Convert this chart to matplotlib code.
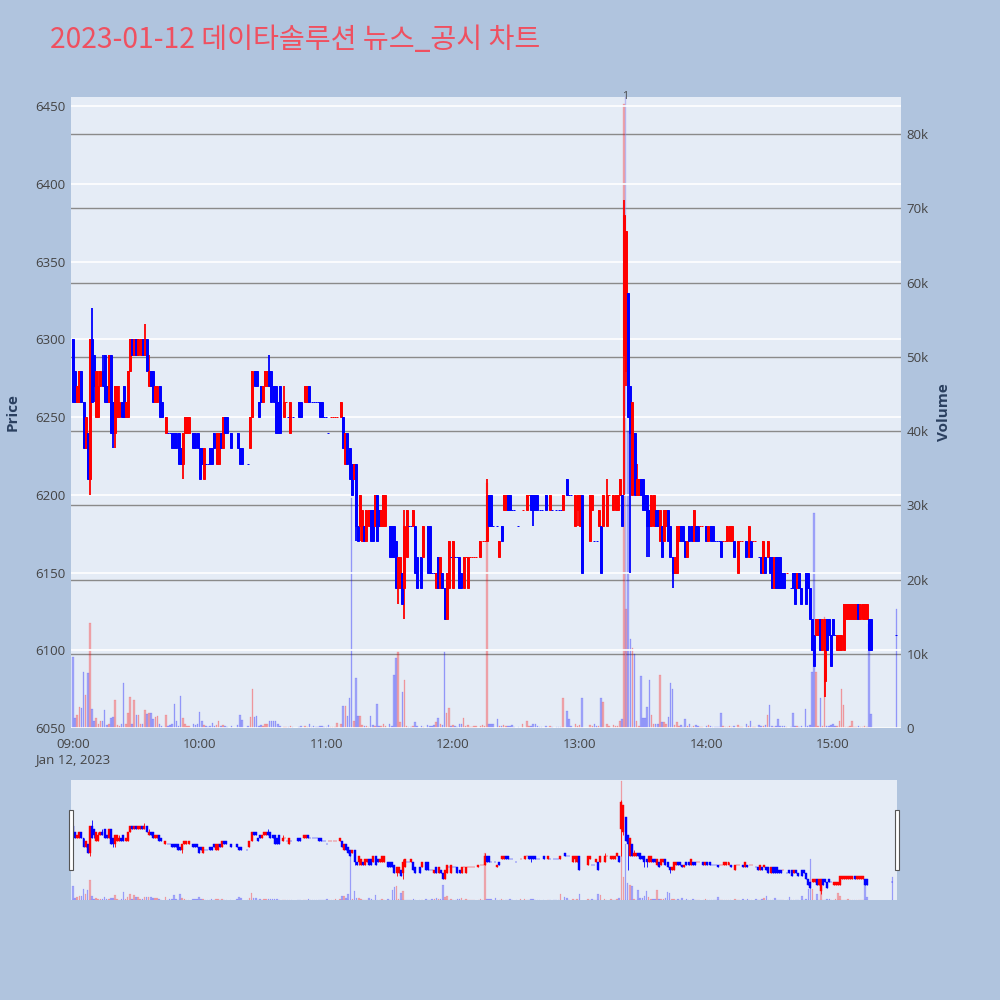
import matplotlib.pyplot as plt
from matplotlib.patches import Rectangle
import numpy as np

# 1-minute bars, 2023-01-12
times = [
    "09:00", "09:01", "09:02", "09:03", "09:04", "09:05", "09:06", "09:07", "09:08", "09:09",
    "09:10", "09:11", "09:12", "09:13", "09:14", "09:15", "09:16", "09:17", "09:18", "09:19",
    "09:20", "09:21", "09:22", "09:23", "09:24", "09:25", "09:26", "09:27", "09:28", "09:29",
    "09:30", "09:31", "09:32", "09:33", "09:34", "09:35", "09:36", "09:37", "09:38", "09:39",
    "09:40", "09:41", "09:42",
    "09:44", "09:45", "09:46", "09:47", "09:48", "09:49", "09:50", "09:51", "09:52", "09:53", "09:54", "09:55",
    "09:57", "09:58", "09:59", "10:00", "10:01", "10:02", "10:03", "10:04", "10:05", "10:06",
    "10:07", "10:08", "10:09", "10:10", "10:11", "10:12", "10:13",
    "10:15", "10:18", "10:19", "10:20",
    "10:23", "10:24", "10:25", "10:26", "10:27", "10:28", "10:29", "10:30", "10:31", "10:32",
    "10:33", "10:34", "10:35", "10:36", "10:37", "10:38",
    "10:40", "10:41", "10:42", "10:43", "10:44",
    "10:47", "10:48",
    "10:50", "10:51", "10:52", "10:53", "10:54", "10:55", "10:56", "10:57", "10:58", "10:59",
    "11:00", "11:01", "11:02", "11:03", "11:04", "11:05",
    "11:07", "11:08", "11:09", "11:10", "11:11", "11:12", "11:13", "11:14", "11:15", "11:16",
    "11:17", "11:18", "11:19", "11:20", "11:21", "11:22", "11:23", "11:24", "11:25", "11:26",
    "11:27", "11:28",
    "11:30", "11:31", "11:32", "11:33", "11:34", "11:35", "11:36", "11:37", "11:38", "11:39",
    "11:40", "11:41", "11:42", "11:43",
    "11:45", "11:46",
    "11:48", "11:49", "11:50", "11:51", "11:52", "11:53", "11:54", "11:55", "11:56", "11:57",
    "11:58", "11:59", "12:00", "12:01", "12:02", "12:03", "12:04", "12:05", "12:06", "12:07",
    "12:08", "12:09", "12:10", "12:11",
    "12:13", "12:14", "12:15", "12:16", "12:17", "12:18", "12:19",
    "12:21", "12:22", "12:23", "12:24", "12:25", "12:26", "12:27", "12:28", "12:29",
    "12:31", "12:33",
    "12:35", "12:36", "12:37", "12:38", "12:39", "12:40", "12:41", "12:42",
    "12:44", "12:46", "12:47",
    "12:49", "12:50", "12:51", "12:52",
    "12:54", "12:55", "12:56",
    "12:58", "12:59", "13:00", "13:01",
    "13:05", "13:06", "13:07", "13:08", "13:09", "13:10", "13:11",
    "13:13", "13:14",
    "13:16", "13:17", "13:18", "13:19", "13:20", "13:21", "13:22", "13:23", "13:24", "13:25",
    "13:26", "13:27", "13:28", "13:29", "13:30", "13:31", "13:32", "13:33", "13:34", "13:35",
    "13:36", "13:37", "13:38", "13:39", "13:40", "13:41", "13:42", "13:43", "13:44", "13:45",
    "13:46", "13:47", "13:48", "13:49", "13:50", "13:51", "13:52", "13:53", "13:54", "13:55",
    "13:56", "13:57", "13:58",
    "14:00", "14:01", "14:02", "14:03", "14:04", "14:05", "14:06", "14:07", "14:08", "14:09",
    "14:10", "14:11", "14:12", "14:13",
    "14:15", "14:16", "14:17",
    "14:19", "14:20", "14:21", "14:22", "14:23",
    "14:25", "14:26", "14:27", "14:28", "14:29", "14:30", "14:31", "14:32", "14:33", "14:34",
    "14:35", "14:36", "14:37", "14:38",
    "14:40", "14:41", "14:42", "14:43", "14:44", "14:45",
    "14:47", "14:48", "14:49", "14:50", "14:51", "14:52", "14:53", "14:54", "14:55", "14:56",
    "14:57", "14:58", "14:59", "15:00", "15:01", "15:02", "15:03", "15:04", "15:05", "15:06",
    "15:07", "15:08", "15:09", "15:10", "15:11", "15:12", "15:13", "15:14", "15:15", "15:16",
    "15:17", "15:18",
    "15:30",
]

opens = [
    6300, 6280, 6260, 6260, 6280, 6260, 6230, 6240, 6210, 6300,
    6290, 6250, 6250, 6270, 6280, 6290, 6270, 6260, 6290, 6260,
    6240, 6250, 6250, 6260, 6270, 6250, 6250, 6280, 6300, 6290,
    6300, 6290, 6290, 6300, 6290, 6300, 6270, 6280, 6280, 6260,
    6260, 6270, 6260,
    6240, 6240, 6240, 6240, 6240, 6240, 6240, 6230, 6220, 6240, 6240, 6240,
    6240, 6240, 6240, 6230, 6230, 6210, 6220, 6220, 6230, 6230,
    6240, 6220, 6220, 6240, 6230, 6250, 6250,
    6240, 6240, 6230, 6230,
    6220, 6230, 6250, 6280, 6280, 6260, 6270, 6260, 6270, 6270,
    6280, 6280, 6270, 6270, 6260, 6270,
    6250, 6260, 6250, 6240, 6250,
    6260, 6260,
    6260, 6260, 6270, 6260, 6260, 6260, 6260, 6260, 6260, 6250,
    6250, 6240, 6250, 6250, 6250, 6250,
    6250, 6250, 6220, 6240, 6230, 6220, 6210, 6220, 6180, 6180,
    6170, 6180, 6170, 6180, 6190, 6190, 6180, 6200, 6190, 6180,
    6180, 6180,
    6180, 6180, 6180, 6170, 6140, 6140, 6150, 6140, 6160, 6180,
    6180, 6180, 6180, 6160,
    6160, 6160,
    6180, 6180, 6150, 6150, 6140, 6160, 6140, 6150, 6140, 6120,
    6140, 6160, 6140, 6160, 6160, 6160, 6150, 6140, 6160, 6140,
    6160, 6160, 6160, 6160,
    6160, 6170, 6170, 6170, 6200, 6200, 6180,
    6180, 6160, 6180, 6190, 6190, 6200, 6200, 6190, 6190,
    6180, 6190,
    6190, 6200, 6200, 6200, 6200, 6200, 6190, 6190,
    6200, 6190, 6190,
    6190, 6190, 6190, 6190,
    6210, 6200, 6200,
    6180, 6190, 6180, 6200,
    6170, 6190, 6170, 6170, 6180, 6180, 6180,
    6180, 6200,
    6190, 6190, 6190, 6200, 6200, 6290, 6280, 6330, 6270, 6200,
    6240, 6200, 6200, 6210, 6210, 6200, 6200, 6190, 6180, 6180,
    6190, 6190, 6170, 6180, 6170, 6180, 6190, 6180, 6160, 6150,
    6150, 6170, 6180, 6180, 6170, 6160, 6180, 6180, 6170, 6180,
    6180, 6180, 6180,
    6180, 6170, 6180, 6180, 6170, 6170, 6170, 6170, 6170, 6170,
    6170, 6170, 6170, 6170,
    6150, 6170, 6170,
    6170, 6160, 6170, 6170, 6170,
    6160, 6160, 6150, 6160, 6160, 6160, 6160, 6140, 6160, 6160,
    6160, 6150, 6150, 6150,
    6140, 6150, 6150, 6140, 6150, 6140,
    6150, 6150, 6140, 6120, 6110, 6110, 6110, 6120, 6100, 6080,
    6120, 6120, 6110, 6120, 6110, 6100, 6100, 6100, 6100, 6120,
    6120, 6120, 6120, 6120, 6120, 6130, 6120, 6120, 6120, 6120,
    6120, 6120,
    6110,
]

highs = [
    6300, 6280, 6270, 6280, 6280, 6260, 6250, 6240, 6300, 6320,
    6290, 6280, 6280, 6280, 6290, 6290, 6270, 6290, 6290, 6260,
    6270, 6270, 6270, 6260, 6270, 6260, 6280, 6300, 6300, 6300,
    6300, 6300, 6300, 6300, 6310, 6300, 6290, 6280, 6280, 6270,
    6270, 6270, 6260,
    6250, 6240, 6240, 6240, 6240, 6240, 6240, 6230, 6240, 6250, 6250, 6250,
    6240, 6240, 6240, 6230, 6230, 6230, 6220, 6220, 6230, 6230,
    6240, 6240, 6240, 6240, 6250, 6250, 6250,
    6240, 6240, 6230, 6230,
    6220, 6250, 6280, 6280, 6280, 6260, 6270, 6270, 6280, 6280,
    6290, 6280, 6270, 6270, 6260, 6270,
    6270, 6260, 6250, 6260, 6250,
    6260, 6260,
    6270, 6270, 6270, 6260, 6260, 6260, 6260, 6260, 6260, 6250,
    6250, 6240, 6250, 6250, 6250, 6250,
    6260, 6250, 6240, 6240, 6230, 6220, 6220, 6220, 6180, 6200,
    6190, 6180, 6190, 6190, 6190, 6190, 6200, 6200, 6190, 6190,
    6200, 6200,
    6180, 6180, 6180, 6170, 6160, 6160, 6150, 6190, 6190, 6180,
    6180, 6190, 6180, 6160,
    6160, 6180,
    6180, 6180, 6150, 6150, 6150, 6160, 6160, 6150, 6140, 6150,
    6170, 6160, 6170, 6160, 6160, 6160, 6150, 6160, 6160, 6160,
    6160, 6160, 6160, 6160,
    6170, 6170, 6170, 6210, 6200, 6200, 6180,
    6180, 6170, 6180, 6200, 6200, 6200, 6200, 6190, 6190,
    6180, 6190,
    6200, 6200, 6200, 6200, 6200, 6200, 6190, 6190,
    6200, 6200, 6190,
    6190, 6190, 6190, 6200,
    6210, 6200, 6200,
    6200, 6200, 6200, 6200,
    6200, 6200, 6170, 6170, 6190, 6180, 6200,
    6210, 6200,
    6200, 6200, 6200, 6210, 6200, 6390, 6370, 6330, 6270, 6260,
    6240, 6220, 6210, 6210, 6210, 6200, 6200, 6190, 6200, 6200,
    6190, 6190, 6190, 6180, 6190, 6190, 6190, 6180, 6160, 6160,
    6180, 6180, 6180, 6180, 6170, 6170, 6180, 6180, 6190, 6180,
    6180, 6180, 6180,
    6180, 6180, 6180, 6180, 6170, 6170, 6170, 6170, 6170, 6170,
    6180, 6180, 6180, 6170,
    6170, 6170, 6170,
    6170, 6180, 6170, 6170, 6170,
    6160, 6160, 6170, 6160, 6170, 6160, 6160, 6160, 6160, 6160,
    6160, 6150, 6150, 6150,
    6140, 6150, 6150, 6150, 6150, 6140,
    6150, 6150, 6140, 6120, 6110, 6120, 6120, 6120, 6120, 6120,
    6120, 6120, 6110, 6120, 6110, 6110, 6110, 6110, 6130, 6130,
    6130, 6130, 6130, 6130, 6130, 6130, 6130, 6130, 6130, 6130,
    6120, 6120,
    6110,
]

lows = [
    6260, 6260, 6260, 6260, 6260, 6230, 6230, 6210, 6200, 6260,
    6260, 6250, 6250, 6270, 6270, 6260, 6260, 6260, 6240, 6230,
    6230, 6250, 6250, 6250, 6250, 6250, 6250, 6280, 6290, 6290,
    6290, 6290, 6290, 6290, 6290, 6280, 6270, 6270, 6260, 6260,
    6260, 6250, 6250,
    6240, 6240, 6240, 6230, 6230, 6230, 6220, 6220, 6210, 6240, 6240, 6240,
    6230, 6230, 6230, 6210, 6220, 6210, 6220, 6220, 6220, 6220,
    6230, 6220, 6220, 6230, 6230, 6240, 6240,
    6230, 6230, 6220, 6220,
    6220, 6230, 6250, 6270, 6270, 6250, 6260, 6260, 6270, 6270,
    6270, 6260, 6260, 6240, 6240, 6240,
    6250, 6260, 6250, 6240, 6250,
    6250, 6250,
    6260, 6260, 6260, 6260, 6260, 6260, 6260, 6250, 6250, 6250,
    6250, 6240, 6250, 6250, 6250, 6250,
    6250, 6230, 6220, 6220, 6210, 6200, 6210, 6170, 6170, 6170,
    6170, 6170, 6170, 6180, 6170, 6170, 6180, 6170, 6180, 6180,
    6180, 6180,
    6160, 6160, 6160, 6140, 6130, 6140, 6130, 6120, 6160, 6180,
    6180, 6180, 6150, 6140,
    6140, 6160,
    6150, 6150, 6150, 6150, 6140, 6140, 6140, 6140, 6120, 6120,
    6140, 6160, 6140, 6160, 6160, 6140, 6140, 6140, 6160, 6140,
    6160, 6160, 6160, 6160,
    6160, 6170, 6170, 6170, 6180, 6180, 6180,
    6180, 6160, 6170, 6190, 6190, 6190, 6190, 6190, 6190,
    6180, 6190,
    6190, 6200, 6190, 6180, 6190, 6190, 6190, 6190,
    6190, 6190, 6190,
    6190, 6190, 6190, 6190,
    6200, 6200, 6200,
    6180, 6180, 6180, 6150,
    6170, 6190, 6170, 6170, 6180, 6150, 6180,
    6180, 6200,
    6190, 6190, 6190, 6200, 6180, 6200, 6270, 6250, 6150, 6200,
    6200, 6200, 6200, 6200, 6190, 6190, 6160, 6160, 6180, 6180,
    6180, 6180, 6170, 6160, 6170, 6180, 6170, 6160, 6140, 6150,
    6150, 6170, 6170, 6170, 6160, 6160, 6170, 6170, 6170, 6170,
    6170, 6180, 6180,
    6170, 6170, 6170, 6170, 6170, 6170, 6170, 6160, 6170, 6170,
    6170, 6170, 6170, 6160,
    6150, 6170, 6170,
    6160, 6160, 6160, 6170, 6170,
    6160, 6150, 6150, 6150, 6160, 6150, 6140, 6140, 6140, 6140,
    6140, 6140, 6140, 6150,
    6140, 6140, 6130, 6140, 6140, 6130,
    6130, 6140, 6120, 6100, 6090, 6110, 6110, 6100, 6100, 6070,
    6100, 6110, 6090, 6110, 6110, 6100, 6100, 6100, 6100, 6120,
    6120, 6120, 6120, 6120, 6120, 6120, 6120, 6120, 6120, 6120,
    6100, 6100,
    6110,
]

closes = [
    6260, 6260, 6270, 6280, 6260, 6230, 6250, 6210, 6300, 6260,
    6270, 6280, 6270, 6280, 6270, 6260, 6260, 6290, 6240, 6240,
    6270, 6270, 6260, 6250, 6250, 6260, 6280, 6300, 6290, 6300,
    6290, 6300, 6300, 6290, 6300, 6280, 6280, 6270, 6260, 6270,
    6270, 6250, 6250,
    6250, 6240, 6240, 6230, 6230, 6230, 6220, 6220, 6240, 6250, 6250, 6250,
    6230, 6230, 6230, 6210, 6220, 6230, 6220, 6220, 6220, 6220,
    6230, 6240, 6240, 6230, 6250, 6240, 6240,
    6230, 6230, 6220, 6220,
    6220, 6250, 6280, 6270, 6270, 6250, 6260, 6270, 6280, 6280,
    6270, 6260, 6260, 6240, 6240, 6240,
    6260, 6260, 6250, 6260, 6250,
    6250, 6250,
    6270, 6270, 6260, 6260, 6260, 6260, 6260, 6250, 6250, 6250,
    6250, 6240, 6250, 6250, 6250, 6250,
    6260, 6230, 6240, 6220, 6210, 6200, 6220, 6180, 6170, 6200,
    6190, 6170, 6190, 6190, 6170, 6170, 6200, 6170, 6180, 6190,
    6200, 6200,
    6160, 6160, 6160, 6140, 6160, 6160, 6130, 6180, 6190, 6180,
    6180, 6190, 6150, 6140,
    6140, 6180,
    6150, 6150, 6150, 6150, 6150, 6140, 6160, 6140, 6120, 6150,
    6170, 6160, 6170, 6160, 6160, 6140, 6140, 6160, 6160, 6160,
    6160, 6160, 6160, 6160,
    6170, 6170, 6170, 6200, 6180, 6180, 6180,
    6180, 6170, 6170, 6200, 6200, 6190, 6190, 6190, 6190,
    6180, 6190,
    6200, 6200, 6190, 6190, 6190, 6190, 6190, 6190,
    6190, 6200, 6190,
    6190, 6190, 6190, 6200,
    6200, 6200, 6200,
    6200, 6200, 6200, 6150,
    6200, 6200, 6170, 6170, 6190, 6150, 6200,
    6200, 6200,
    6200, 6200, 6200, 6210, 6180, 6380, 6370, 6250, 6240, 6260,
    6200, 6210, 6210, 6200, 6190, 6190, 6180, 6180, 6200, 6200,
    6180, 6180, 6190, 6160, 6190, 6190, 6170, 6160, 6150, 6160,
    6180, 6180, 6170, 6170, 6160, 6170, 6170, 6170, 6190, 6170,
    6170, 6180, 6180,
    6170, 6180, 6170, 6170, 6170, 6170, 6170, 6160, 6170, 6170,
    6180, 6180, 6180, 6160,
    6170, 6170, 6170,
    6160, 6180, 6160, 6170, 6170,
    6160, 6150, 6170, 6150, 6170, 6150, 6140, 6160, 6140, 6140,
    6140, 6140, 6140, 6150,
    6140, 6140, 6130, 6150, 6140, 6130,
    6130, 6140, 6120, 6100, 6090, 6120, 6120, 6100, 6120, 6120,
    6100, 6110, 6090, 6110, 6110, 6110, 6110, 6110, 6130, 6130,
    6130, 6130, 6130, 6130, 6130, 6120, 6130, 6130, 6130, 6130,
    6100, 6100,
    6110,
]

volumes = [
    9600, 1300, 1800, 2800, 2700, 7600, 4500, 7400, 14200, 2500,
    900, 1300, 500, 900, 900, 2400, 400, 600, 1300, 1500,
    3800, 400, 300, 500, 6000, 600, 2000, 4200, 600, 3800,
    1800, 1800, 600, 500, 2400, 1900, 2000, 2000, 1200, 1500,
    1600, 600, 300,
    1800, 300, 400, 600, 3300, 1000, 300, 4300, 1300, 600, 300, 300,
    600, 400, 600, 2200, 1000, 400, 300, 200, 300, 700,
    300, 400, 900, 300, 400, 300, 200,
    300, 400, 1800, 1100,
    300, 1500, 5300, 1500, 1600, 300, 400, 300, 500, 500,
    1000, 1000, 1000, 900, 600, 300,
    200, 200, 100, 300, 200,
    200, 300,
    300, 200, 600, 200, 300, 200, 200, 300, 300, 200,
    200, 400, 200, 200, 200, 700,
    500, 2900, 3000, 1600, 4100, 31000, 1000, 6700, 1600, 1600,
    400, 300, 300, 200, 1600, 400, 300, 3300, 300, 300,
    500, 300,
    500, 300, 7200, 9400, 10200, 800, 4900, 6400, 300, 200,
    200, 300, 800, 300,
    300, 200,
    400, 300, 300, 400, 800, 1400, 500, 400, 10300, 2000,
    2700, 300, 400, 300, 200, 600, 500, 1300, 300, 400,
    200, 200, 300, 300,
    300, 400, 300, 33000, 600, 600, 600,
    1200, 300, 300, 400, 300, 300, 300, 400, 200,
    200, 500,
    1000, 300, 300, 600, 600, 300, 200, 200,
    300, 300, 200,
    200, 200, 200, 4000,
    2300, 1200, 300,
    600, 300, 400, 4000,
    400, 300, 500, 300, 300, 4000, 3500,
    600, 300,
    400, 300, 300, 1000, 1200, 84000, 16000, 40000, 12000, 10800,
    10000, 1000, 300, 7000, 1300, 1300, 2800, 6400, 1800, 600,
    500, 500, 7200, 800, 800, 600, 1500, 6000, 5200, 400,
    800, 300, 400, 200, 1200, 300, 500, 200, 300, 400,
    300, 200, 200,
    300, 400, 300, 200, 200, 200, 200, 2000, 300, 200,
    200, 300, 200, 300,
    400, 200, 200,
    600, 300, 1000, 200, 200,
    400, 300, 300, 400, 1700, 3100, 300, 200, 300, 1200,
    300, 300, 300, 200,
    200, 2000, 300, 300, 200, 300,
    2500, 300, 400, 7600, 29000, 7500, 300, 4100, 300, 15000,
    300, 300, 400, 500, 300, 300, 1000, 5200, 3100, 200,
    200, 300, 1000, 200, 200, 300, 200, 200, 300, 200,
    14000, 1900,
    16000,
]

news_time = "13:21"
news_label = "1"
title = "2023-01-12 데이타솔루션 뉴스_공시 차트"

UP = "#ff0000"
DOWN = "#0000ff"
PLOT_BG = "#E5ECF6"
PAPER_BG = "#B0C4DE"
TICK_C = "#444444"


def to_min(t):
    hh, mm = t.split(":")
    return (int(hh) - 9) * 60 + int(mm)


x = np.array([to_min(t) for t in times], dtype=float)
o = np.array(opens, dtype=float)
hi = np.array(highs, dtype=float)
lo = np.array(lows, dtype=float)
c = np.array(closes, dtype=float)
v = np.array(volumes, dtype=float)

# direction: close vs open; flat bars follow the previous close,
# a flat bar after a long pause (closing auction) counts as down
cols = []
prev_c, prev_up, prev_x = None, False, None
for i in range(len(x)):
    if c[i] > o[i]:
        up = True
    elif c[i] < o[i]:
        up = False
    elif prev_x is not None and x[i] - prev_x > 5:
        up = False
    elif prev_c is not None and c[i] != prev_c:
        up = c[i] > prev_c
    else:
        up = prev_up
    cols.append(UP if up else DOWN)
    prev_c, prev_up, prev_x = c[i], up, x[i]


def draw(ax_p, ax_v, wick_lw, body_lw, vol_lw):
    ax_v.bar(x, v, width=0.75, color=cols, alpha=0.28, linewidth=vol_lw,
             edgecolor=cols)
    ax_p.vlines(x, lo, hi, colors=cols, linewidth=wick_lw, zorder=3)
    bottom = np.minimum(o, c)
    height = np.abs(c - o)
    ax_p.bar(x, height, bottom=bottom, width=0.95, color=cols,
             edgecolor=cols, linewidth=body_lw, zorder=4)


XMIN, XMAX = -0.95, 392.2
PMIN, PMAX = 6050, 6456
VMAX = 85000

fig = plt.figure(figsize=(10, 10), dpi=100)
fig.patch.set_facecolor(PAPER_BG)

rect = [0.071, 0.272, 0.830, 0.631]
ax_v = fig.add_axes(rect)
ax_v.set_facecolor(PLOT_BG)
ax_p = fig.add_axes(rect, sharex=ax_v)
ax_p.set_facecolor("none")

draw(ax_p, ax_v, 1.3, 0.7, 0.3)

# news marker
nx = to_min(news_time) + 0.5
ax_v.axvline(nx, color="#8c8cf0", alpha=0.5, linewidth=1.0, zorder=1)
ax_p.text(nx, PMAX, news_label, ha="center", va="center", fontsize=7.5,
          color=TICK_C, family="Open Sans")

ax_v.set_xlim(XMIN, XMAX)
ax_v.set_ylim(0, VMAX)
ax_p.set_ylim(PMIN, PMAX)

ax_v.yaxis.tick_right()
ax_v.yaxis.set_label_position("right")
vt = np.arange(0, 80001, 10000)
ax_v.set_yticks(vt)
ax_v.set_yticklabels(["0"] + [f"{int(t/1000)}k" for t in vt[1:]])
ax_v.grid(axis="y", color="#8a8a8a", linewidth=1.0)
ax_v.set_axisbelow(True)

pt = np.arange(6050, 6451, 50)
ax_p.set_yticks(pt)
ax_p.set_yticklabels([str(p) for p in pt])
ax_p.grid(axis="y", color="white", linewidth=1.2)
ax_p.set_axisbelow(True)

xt = np.arange(0, 361, 60)
ax_v.set_xticks(xt)
labels = [f"{9 + int(t // 60):02d}:00" for t in xt]
labels[0] = "09:00\nJan 12, 2023"
ax_v.set_xticklabels(labels, linespacing=1.25)

for a in (ax_v, ax_p):
    for s in a.spines.values():
        s.set_visible(False)
    a.tick_params(length=0, labelsize=9.5, labelcolor=TICK_C, pad=4)
    for lab in a.get_xticklabels() + a.get_yticklabels():
        lab.set_family("Open Sans")
ax_v.tick_params(axis="x", pad=7)
ax_p.tick_params(axis="x", bottom=False, labelbottom=False)

ax_p.set_ylabel("Price", fontsize=11, fontweight="bold", color="#2a3f5f",
                family="Open Sans", labelpad=11)
ax_v.set_ylabel("Volume", fontsize=11, fontweight="bold", color="#2a3f5f",
                family="Open Sans", labelpad=6)

fig.text(0.050, 0.960, title, fontsize=20.3, color="#EF5060",
         family=["Noto Sans CJK KR", "DejaVu Sans"], va="center", ha="left")

# range slider
srect = [0.071, 0.100, 0.826, 0.120]
sv = fig.add_axes(srect)
sv.set_facecolor(PLOT_BG)
sp = fig.add_axes(srect, sharex=sv)
sp.set_facecolor("none")
draw(sp, sv, 0.6, 0.3, 0.2)
sv.set_xlim(XMIN, XMAX)
sv.set_ylim(0, VMAX)
sp.set_ylim(PMIN, PMAX)
for a in (sv, sp):
    a.set_xticks([])
    a.set_yticks([])
    for s in a.spines.values():
        s.set_visible(False)

for hx in (0.069, 0.895):
    fig.patches.append(Rectangle((hx, 0.130), 0.004, 0.060,
                                 transform=fig.transFigure, facecolor="white",
                                 edgecolor="#555555", linewidth=0.8))

fig.savefig("out.png", dpi=100, facecolor=PAPER_BG)
